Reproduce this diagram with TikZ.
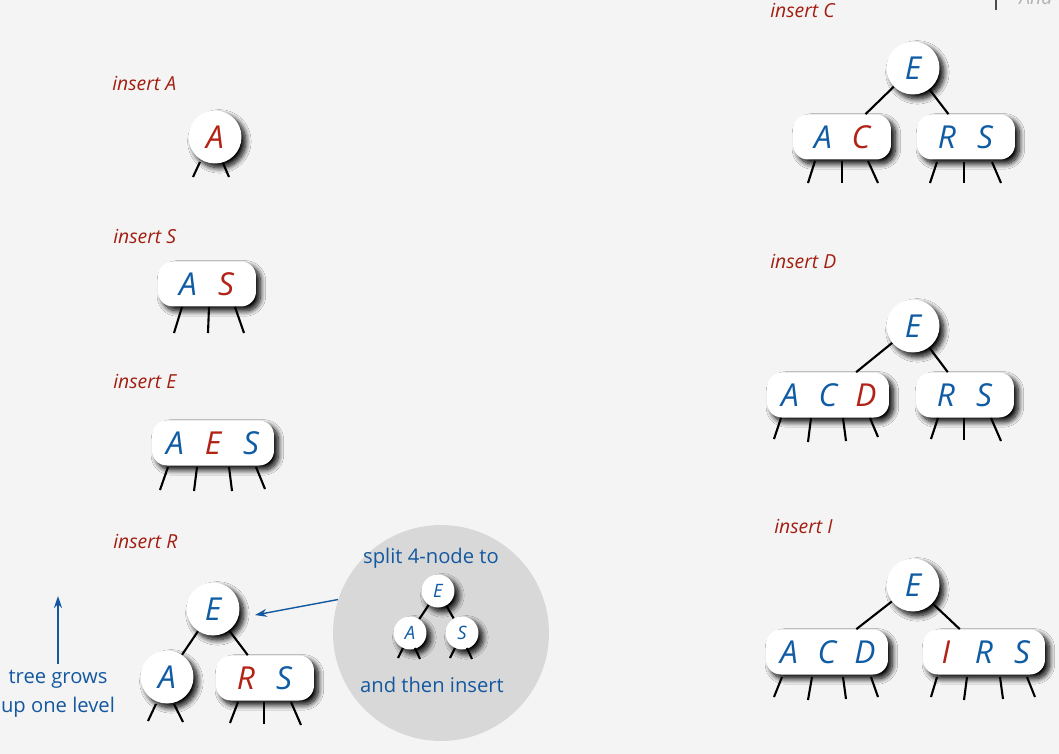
\documentclass[tikz,border=0pt]{standalone}
\usepackage{fontspec}
\setmainfont{Open Sans}
\usetikzlibrary{shadows.blur,arrows.meta}

\definecolor{keyblue}{RGB}{16,92,164}
\definecolor{keyred}{RGB}{178,34,22}
\definecolor{labelred}{RGB}{162,30,16}
\definecolor{noteblue}{RGB}{20,88,160}
\definecolor{bggray}{RGB}{244,244,244}
\definecolor{splitgray}{RGB}{216,216,216}

% one key slot inside a node
\newcommand{\kb}[1]{\makebox[0.76cm]{\color{keyblue}#1}}
\newcommand{\kr}[1]{\makebox[0.76cm]{\color{keyred}#1}}

\begin{document}
\begin{tikzpicture}[
  x = 0.02cm, y = -0.02cm,
  key/.style = {fill=white, inner sep=0pt,
                blur shadow={shadow xshift=2.5pt, shadow yshift=-2.5pt, shadow blur radius=3pt,
                             shadow blur steps=12, shadow opacity=100},
                font=\itshape\fontsize{18}{18}\selectfont},
  one/.style = {key, circle, minimum size=1.06cm},
  two/.style = {key, rounded corners=0.3cm, minimum width=1.96cm, minimum height=0.9cm},
  three/.style = {two, minimum width=2.44cm},
  small/.style = {key, circle, minimum size=0.66cm, font=\itshape\fontsize{10.5}{10.5}\selectfont},
  label/.style = {anchor=base west, inner sep=0pt, text=labelred, font=\itshape\fontsize{11}{13}\selectfont},
  note/.style = {text=noteblue, align=center, font=\fontsize{11.5}{16.5}\selectfont},
  link/.style = {line width=1.2pt},
  leg/.style = {line width=1.2pt},
  growarrow/.style = {noteblue, line width=0.8pt, -{Stealth[length=2.4mm, width=1.6mm]}},
  ]
  \useasboundingbox (0,0) rectangle (1059,754);
  \fill[bggray] (0,0) rectangle (1059,754);

  % left column
  \node[label] (lA) at (112,90) {insert A};
  \node[one, text=keyred] (a1) at (215,137) {A};
  \foreach \sx/\sy/\dx/\dy in {-15/25/-7/15, 8/26/6/14}
    \draw[leg] (a1.center) ++(\sx,\sy) -- ++(\dx,\dy);

  \node[label] (lS) at (113,243) {insert S};
  \node[two] (as) at (207,284) {\kb{A}\kr{S}};
  \foreach \sx/\sy/\dx/\dy in {-25/23/-8/26, 2/23/-1/26, 28/23/9/26}
    \draw[leg] (as.center) ++(\sx,\sy) -- ++(\dx,\dy);

  \node[label] (lE) at (113,388) {insert E};
  \node[three] (aes) at (213,443) {\kb{A}\kr{E}\kb{S}};
  \foreach \sx/\sy/\dx/\dy in {-45/24/-8/23, -16/24/-3/24, 16/24/3/24, 43/24/9/22}
    \draw[leg] (aes.center) ++(\sx,\sy) -- ++(\dx,\dy);

  \node[label] (lR) at (113,548) {insert R};
  \node[one, text=keyblue] (r-e) at (213,609) {E};
  \node[one, text=keyblue] (r-a) at (167,677) {A};
  \node[two] (r-rs) at (265,678) {\kr{R}\kb{S}};
  \draw[link] (r-e) -- (r-a);
  \draw[link] (r-e) -- (r-rs);
  \foreach \sx/\sy/\dx/\dy in {-11/27/-8/17, 7/27/9/18}
    \draw[leg] (r-a.center) ++(\sx,\sy) -- ++(\dx,\dy);
  \foreach \sx/\sy/\dx/\dy in {-27/24/-8/21, -1/24/0/22, 26/24/10/23}
    \draw[leg] (r-rs.center) ++(\sx,\sy) -- ++(\dx,\dy);

  % split note
  \node[circle, fill=splitgray, minimum size=4.32cm] (split) at (441,633) {};
  \node[note] (split-top) at (431,558) {split 4-node to};
  \node[small, text=keyblue] (s-e) at (438,591) {E};
  \node[small, text=keyblue] (s-a) at (410,633) {A};
  \node[small, text=keyblue] (s-s) at (462,633) {S};
  \draw[link] (s-e) -- (s-a);
  \draw[link] (s-e) -- (s-s);
  \foreach \n in {s-a, s-s}
    \foreach \sx/\sy/\dx/\dy in {-7/15/-5/10, 5/15/5/11}
      \draw[leg] (\n.center) ++(\sx,\sy) -- ++(\dx,\dy);
  \node[note] (split-bot) at (432,685) {and then insert};
  \draw[growarrow, shorten >=0.34cm] (split.162) -- (r-e.-20);

  \node[note] (grows) at (58,694) {tree grows\\up one level};
  \coordinate (grows-tip) at (58,596);
  \draw[growarrow] (grows) -- (grows-tip);

  % right column
  \node[label] (lC) at (770,17) {insert C};
  \node[one, text=keyblue] (c-e) at (913,68) {E};
  \node[two] (c-ac) at (842,137) {\kb{A}\kr{C}};
  \node[two] (c-rs) at (966,137) {\kb{R}\kb{S}};
  \draw[link] (c-e) -- (c-ac);
  \draw[link] (c-e) -- (c-rs);
  \foreach \sx/\sy/\dx/\dy in {-27/24/-7/22, 0/24/0/22, 26/24/10/22}
    \draw[leg] (c-ac.center) ++(\sx,\sy) -- ++(\dx,\dy);
  \foreach \sx/\sy/\dx/\dy in {-29/25/-7/21, -2/25/0/21, 26/25/9/21}
    \draw[leg] (c-rs.center) ++(\sx,\sy) -- ++(\dx,\dy);

  \node[label] (lD) at (770,268) {insert D};
  \node[one, text=keyblue] (d-e) at (913,326) {E};
  \node[three] (d-acd) at (828,395) {\kb{A}\kb{C}\kr{D}};
  \node[two] (d-rs) at (965,395) {\kb{R}\kb{S}};
  \draw[link] (d-e) -- (d-acd);
  \draw[link] (d-e) -- (d-rs);
  \foreach \sx/\sy/\dx/\dy in {-47/23/-7/21, -17/23/-3/24, 15/23/3/23, 42/23/8/19}
    \draw[leg] (d-acd.center) ++(\sx,\sy) -- ++(\dx,\dy);
  \foreach \sx/\sy/\dx/\dy in {-27/23/-7/21, -1/23/0/22, 26/23/10/23}
    \draw[leg] (d-rs.center) ++(\sx,\sy) -- ++(\dx,\dy);

  \node[label] (lI) at (774,533) {insert I};
  \node[one, text=keyblue] (i-e) at (913,585) {E};
  \node[three] (i-acd) at (827,652) {\kb{A}\kb{C}\kb{D}};
  \node[three] (i-irs) at (984,652) {\kr{I}\kb{R}\kb{S}};
  \draw[link] (i-e) -- (i-acd);
  \draw[link] (i-e) -- (i-irs);
  \foreach \sx/\sy/\dx/\dy in {-45/25/-8/20, -15/25/-4/23, 16/25/3/22, 44/25/7/20}
    \draw[leg] (i-acd.center) ++(\sx,\sy) -- ++(\dx,\dy);
  \foreach \sx/\sy/\dx/\dy in {-47/25/-6/20, -17/25/-3/23, 16/25/3/22, 43/25/8/20}
    \draw[leg] (i-irs.center) ++(\sx,\sy) -- ++(\dx,\dy);

  % cut-off corner
  \draw[gray!60!black, line width=0.8pt] (996,0) -- (996,10);
  \node[anchor=base west, inner sep=0pt, text=gray!60, font=\itshape\fontsize{11}{13}\selectfont] (cut) at (1019,4) {And};
\end{tikzpicture}
\end{document}
